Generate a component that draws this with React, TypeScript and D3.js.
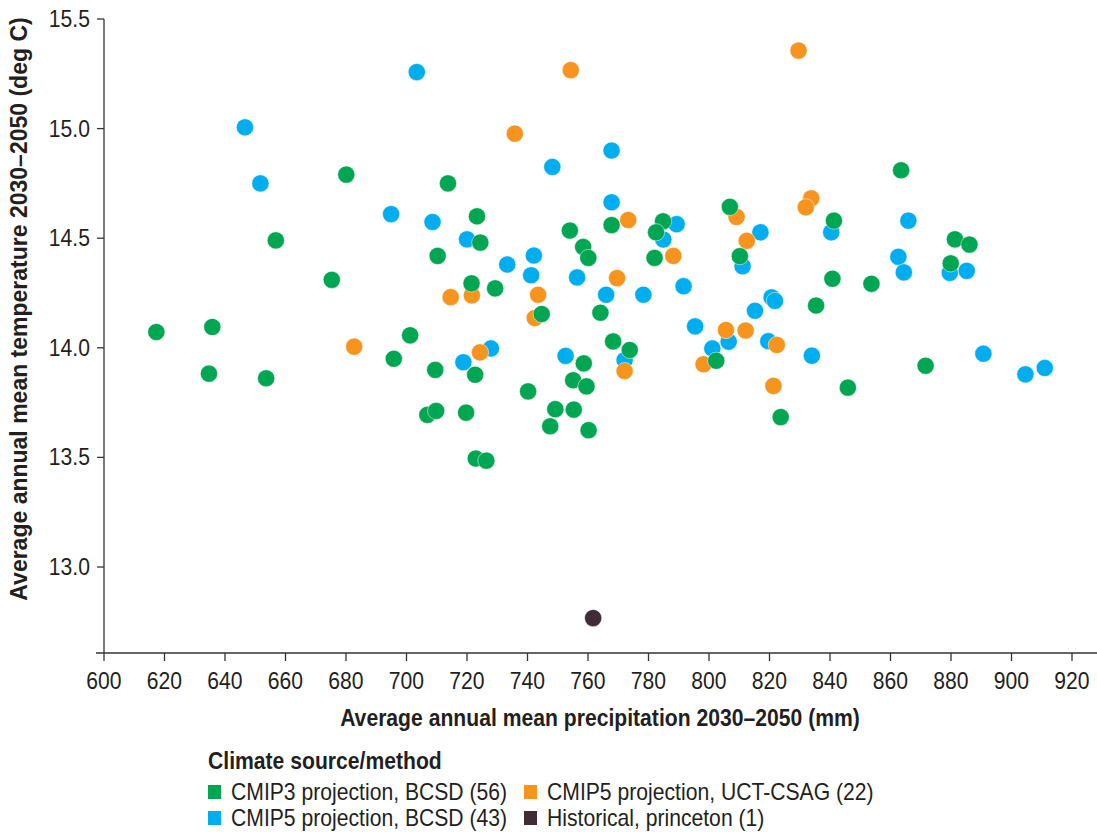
import React from "react";
import * as d3 from "d3";

// Precipitation (mm) and temperature (deg C) per climate source, 2030–2050
const cmip3Precip = [680.1, 656.8, 713.7, 723.3, 767.8, 754.0, 724.4, 784.8, 782.5, 758.4, 806.9, 863.5, 841.3, 881.3, 886.1, 675.3, 617.3, 635.8, 695.8, 634.7, 653.6, 701.2, 710.3, 760.1, 782.0, 810.2, 721.5, 729.3, 744.7, 764.1, 802.4, 709.5, 722.7, 758.6, 755.1, 759.5, 768.3, 773.8, 740.2, 706.9, 709.8, 719.7, 749.2, 755.3, 747.5, 760.2, 722.9, 726.4, 840.8, 853.7, 879.9, 835.4, 823.7, 845.9, 871.6];
const cmip3Temp = [14.79, 14.49, 14.75, 14.6, 14.56, 14.535, 14.48, 14.577, 14.527, 14.46, 14.643, 14.81, 14.58, 14.495, 14.471, 14.31, 14.072, 14.095, 13.95, 13.882, 13.861, 14.057, 14.419, 14.41, 14.41, 14.418, 14.294, 14.271, 14.154, 14.16, 13.941, 13.899, 13.877, 13.929, 13.852, 13.824, 14.029, 13.99, 13.801, 13.694, 13.712, 13.704, 13.72, 13.718, 13.642, 13.624, 13.495, 13.485, 14.315, 14.292, 14.385, 14.193, 13.684, 13.818, 13.918];

const cmip5BcsdPrecip = [646.6, 651.7, 694.9, 703.4, 767.8, 748.2, 767.8, 708.6, 720.0, 789.3, 784.9, 840.4, 865.9, 817.0, 733.3, 742.1, 741.2, 756.4, 766.0, 778.3, 791.6, 795.4, 806.5, 801.1, 727.9, 718.8, 752.6, 772.1, 811.1, 862.6, 864.4, 879.6, 885.2, 820.7, 821.8, 815.2, 819.6, 834.0, 890.7, 904.6, 911.0];
const cmip5BcsdTemp = [15.006, 14.75, 14.61, 15.258, 14.9, 14.825, 14.664, 14.574, 14.495, 14.564, 14.494, 14.527, 14.58, 14.527, 14.38, 14.421, 14.331, 14.321, 14.242, 14.242, 14.281, 14.098, 14.028, 13.997, 13.997, 13.934, 13.963, 13.944, 14.372, 14.415, 14.344, 14.342, 14.351, 14.23, 14.214, 14.169, 14.03, 13.964, 13.973, 13.879, 13.908];

const cmip5UctPrecip = [754.3, 735.8, 773.3, 829.6, 833.8, 832.0, 809.1, 812.5, 682.7, 788.2, 769.6, 714.6, 721.6, 743.5, 742.4, 805.6, 798.2, 724.3, 772.1, 812.1, 822.4, 821.3];
const cmip5UctTemp = [15.267, 14.977, 14.583, 15.356, 14.682, 14.641, 14.597, 14.488, 14.005, 14.419, 14.318, 14.231, 14.239, 14.242, 14.136, 14.081, 13.925, 13.979, 13.894, 14.079, 14.013, 13.826];

const historicalPrecip = [761.7];
const historicalTemp = [12.767];

const xTicks = [600, 620, 640, 660, 680, 700, 720, 740, 760, 780, 800, 820, 840, 860, 880, 900, 920];
const yTicks = [13.0, 13.5, 14.0, 14.5, 15.0, 15.5];

const seriesNames = [
  "CMIP3 projection, BCSD (56)",
  "CMIP5 projection, BCSD (43)",
  "CMIP5 projection, UCT-CSAG (22)",
  "Historical, princeton (1)",
];

const GREEN = "#00a651";
const BLUE = "#00aeef";
const ORANGE = "#f7941d";
const DARK = "#3f2c36";
const INK = "#231f20";

const W = 1097;
const H = 832;
const plotLeft = 104;
const plotRight = 1072;
const plotBottom = 653;
const FONT = "'Liberation Sans', Arial, Helvetica, sans-serif";
const SX = 0.92; // horizontal text squeeze

const x = d3.scaleLinear().domain([600, 920]).range([plotLeft, plotRight]);
const y = d3.scaleLinear().domain([13.0, 15.5]).range([567, 19]);

function zip(xs: number[], ys: number[]) {
  return xs.map((v, i) => ({ p: v, t: ys[i] }));
}

const layers = [
  { color: BLUE, pts: zip(cmip5BcsdPrecip, cmip5BcsdTemp) },
  { color: ORANGE, pts: zip(cmip5UctPrecip, cmip5UctTemp) },
  { color: GREEN, pts: zip(cmip3Precip, cmip3Temp) },
  { color: DARK, pts: zip(historicalPrecip, historicalTemp) },
];

function HText(props: {
  x: number;
  y: number;
  anchor?: string;
  size?: number;
  bold?: boolean;
  children: React.ReactNode;
}) {
  const { x: tx, y: ty, anchor = "start", size = 23, bold = false, children } = props;
  return (
    <text
      transform={`translate(${tx},${ty}) scale(${SX},1)`}
      textAnchor={anchor}
      fontFamily={FONT}
      fontSize={size}
      fontWeight={bold ? "bold" : "normal"}
      fill={INK}
    >
      {children}
    </text>
  );
}

export default function App() {
  const legendItems = [
    { name: seriesNames[0], color: GREEN, lx: 208, ly: 800 },
    { name: seriesNames[1], color: BLUE, lx: 208, ly: 826 },
    { name: seriesNames[2], color: ORANGE, lx: 524, ly: 800 },
    { name: seriesNames[3], color: DARK, lx: 524, ly: 826 },
  ];

  return (
    <div style={{ position: "absolute", left: 0, top: 0 }}>
      <svg width={W} height={H} viewBox={`0 0 ${W} ${H}`} style={{ display: "block", background: "#fff" }}>
        {/* axes */}
        <line x1={plotLeft} x2={plotLeft} y1={y(15.5)} y2={plotBottom} stroke="#333" strokeWidth={1.3} />
        <line x1={96} x2={W} y1={plotBottom} y2={plotBottom} stroke="#333" strokeWidth={1.3} />

        {yTicks.map((t) => (
          <g key={`yt${t}`}>
            <line x1={plotLeft - 7} x2={plotLeft} y1={y(t)} y2={y(t)} stroke="#333" strokeWidth={1.3} />
            <HText x={plotLeft - 14} y={y(t) + 8} anchor="end">
              {d3.format(".1f")(t)}
            </HText>
          </g>
        ))}

        {xTicks.map((t) => (
          <g key={`xt${t}`}>
            <line x1={x(t)} x2={x(t)} y1={plotBottom} y2={plotBottom + 8} stroke="#333" strokeWidth={1.3} />
            <HText x={x(t)} y={689} anchor="middle">
              {t}
            </HText>
          </g>
        ))}

        {/* points */}
        {layers.map((layer, li) => (
          <g key={`layer${li}`}>
            {layer.pts.map((d, i) => (
              <circle
                key={i}
                cx={x(d.p)}
                cy={y(d.t)}
                r={8.6}
                fill={layer.color}
                stroke="#fff"
                strokeWidth={0.5}
              />
            ))}
          </g>
        ))}

        {/* axis titles */}
        <HText x={600} y={726} anchor="middle" bold>
          Average annual mean precipitation 2030–2050 (mm)
        </HText>
        <text
          transform={`translate(27,${309}) rotate(-90)`}
          textAnchor="middle"
          fontFamily={FONT}
          fontSize={23}
          fontWeight="bold"
          fill={INK}
        >
          Average annual mean temperature 2030–2050 (deg C)
        </text>

        {/* legend */}
        <HText x={208} y={769} bold>
          Climate source/method
        </HText>
        {legendItems.map((it) => (
          <g key={it.name}>
            <rect x={it.lx} y={it.ly - 15} width={13} height={14} fill={it.color} />
            <HText x={it.lx + 23} y={it.ly}>
              {it.name}
            </HText>
          </g>
        ))}
      </svg>
    </div>
  );
}
